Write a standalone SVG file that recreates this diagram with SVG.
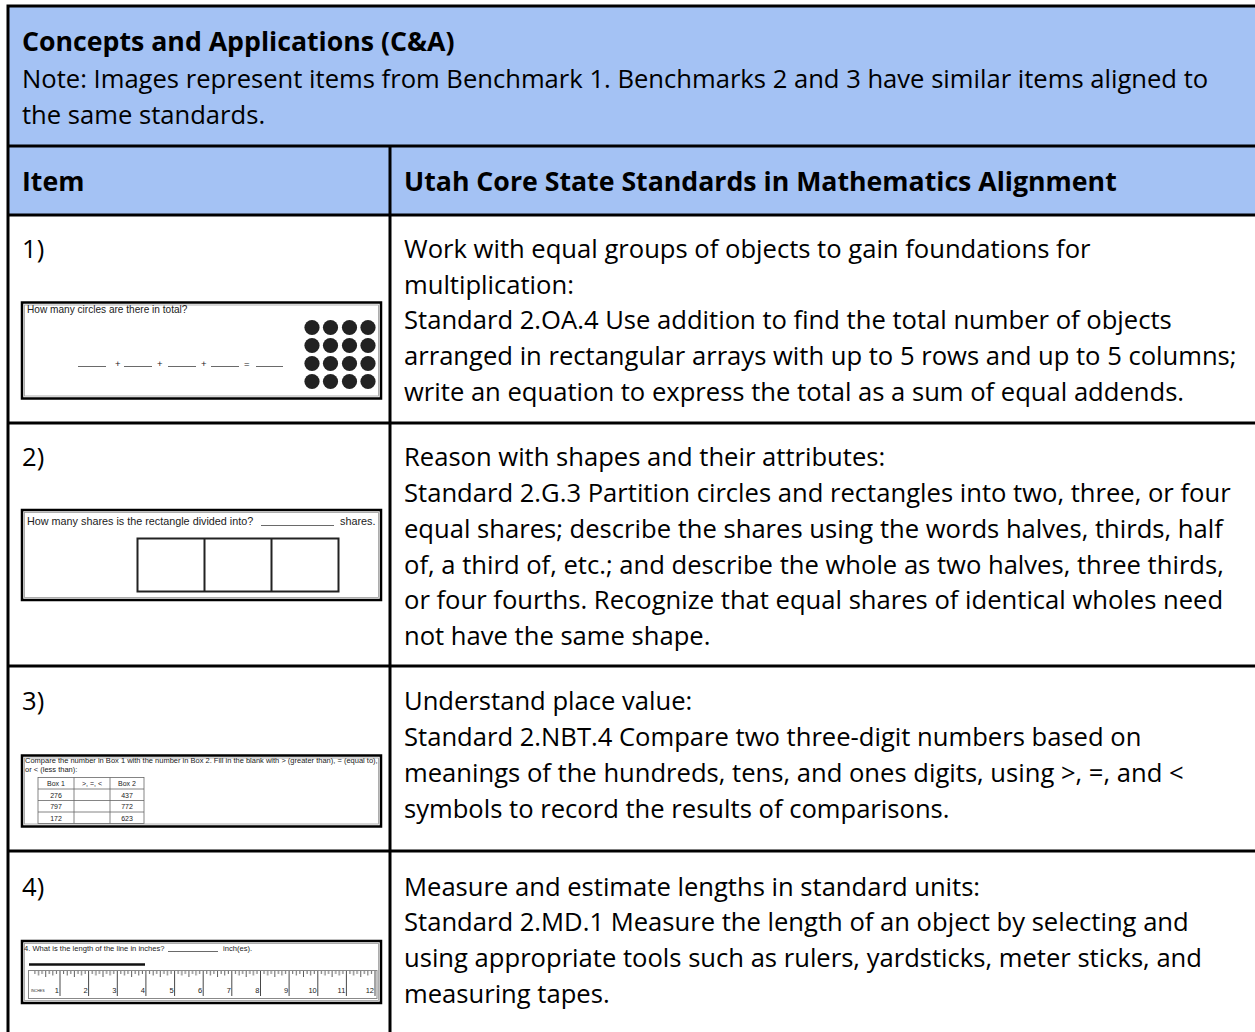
<svg xmlns="http://www.w3.org/2000/svg" width="1255" height="1032" viewBox="0 0 1255 1032">
<defs>
<style>
.t{font-family:"Open Sans","DejaVu Sans",sans-serif;font-size:25.6px;fill:#000}
.b{font-family:"Open Sans","DejaVu Sans",sans-serif;font-size:26.7px;font-weight:bold;fill:#000}
.s{font-family:"Liberation Sans",Arial,sans-serif;fill:#222}
.grid{stroke:#000;stroke-width:3;fill:none}
.frame{fill:#fff;stroke:#000;stroke-width:2.5}
.inner{fill:none;stroke:#999;stroke-width:0.8}
.thin{stroke:#444;stroke-width:0.8;fill:none}
</style>
<pattern id="ticks" patternUnits="userSpaceOnUse" x="31.4" y="971" width="28.64" height="30">
<path d="M3.58 0v3M7.16 0v4.5M10.74 0v3M14.32 0v6M17.9 0v3M21.48 0v4.5M25.06 0v3" stroke="#333" stroke-width="0.8"/>
</pattern>
</defs>
<rect x="8" y="6" width="1247" height="209" fill="#a4c2f4"/>
<rect x="8" y="215" width="1247" height="817" fill="#fff"/>

<g id="grid" class="grid">
<path d="M6.5 6H1255M8 6V1032M8 146H1255M8 215H1255M390 146V1032M8 423H1255M8 666H1255M8 851H1255"/>
</g>

<g id="title">
<text class="b" x="22" y="51">Concepts and Applications (C&amp;A)</text>
<text class="t" x="22" y="88">Note: Images represent items from Benchmark 1. Benchmarks 2 and 3 have similar items aligned to</text>
<text class="t" x="22" y="124">the same standards.</text>
</g>

<g id="header-item"><text class="b" x="22" y="191">Item</text></g>
<g id="header-standard"><text class="b" x="404" y="191">Utah Core State Standards in Mathematics Alignment</text></g>

<g id="row1-item">
<text class="t" x="22" y="258">1)</text>
<rect class="frame" x="22" y="302.5" width="359" height="96"/>
<rect class="inner" x="24.5" y="305" width="354" height="91"/>
<text class="s" x="27" y="313" font-size="10.1">How many circles are there in total?</text>
<g fill="#222">
<circle cx="312" cy="327.5" r="7.6"/><circle cx="330.5" cy="327.5" r="7.6"/><circle cx="349.5" cy="327.5" r="7.6"/><circle cx="368" cy="327.5" r="7.6"/>
<circle cx="312" cy="345.5" r="7.6"/><circle cx="330.5" cy="345.5" r="7.6"/><circle cx="349.5" cy="345.5" r="7.6"/><circle cx="368" cy="345.5" r="7.6"/>
<circle cx="312" cy="363.5" r="7.6"/><circle cx="330.5" cy="363.5" r="7.6"/><circle cx="349.5" cy="363.5" r="7.6"/><circle cx="368" cy="363.5" r="7.6"/>
<circle cx="312" cy="381.5" r="7.6"/><circle cx="330.5" cy="381.5" r="7.6"/><circle cx="349.5" cy="381.5" r="7.6"/><circle cx="368" cy="381.5" r="7.6"/>
</g>
<path class="thin" d="M78 366.5h28M124 366.5h28M168 366.5h28M211 366.5h28M256 366.5h27"/>
<text class="s" x="115" y="367" font-size="9.5">+</text>
<text class="s" x="157" y="367" font-size="9.5">+</text>
<text class="s" x="201" y="367" font-size="9.5">+</text>
<text class="s" x="244" y="367" font-size="9.5">=</text>
</g>
<g id="row1-standard">
<text class="t" x="404" y="258">Work with equal groups of objects to gain foundations for</text>
<text class="t" x="404" y="294">multiplication:</text>
<text class="t" x="404" y="329">Standard 2.OA.4 Use addition to find the total number of objects</text>
<text class="t" x="404" y="365">arranged in rectangular arrays with up to 5 rows and up to 5 columns;</text>
<text class="t" x="404" y="401">write an equation to express the total as a sum of equal addends.</text>
</g>

<g id="row2-item">
<text class="t" x="22" y="466">2)</text>
<rect class="frame" x="22" y="510" width="359" height="90"/>
<rect class="inner" x="24.5" y="512.5" width="354" height="85"/>
<text class="s" x="27" y="525" font-size="10.8">How many shares is the rectangle divided into?</text>
<path class="thin" d="M261 525.5h73"/>
<text class="s" x="340" y="525" font-size="10.8">shares.</text>
<rect x="137.5" y="538.5" width="201" height="53" fill="#fff" stroke="#222" stroke-width="2"/>
<path d="M204.5 538.5v53M271.5 538.5v53" stroke="#222" stroke-width="2"/>
</g>
<g id="row2-standard">
<text class="t" x="404" y="466">Reason with shapes and their attributes:</text>
<text class="t" x="404" y="502">Standard 2.G.3 Partition circles and rectangles into two, three, or four</text>
<text class="t" x="404" y="538">equal shares; describe the shares using the words halves, thirds, half</text>
<text class="t" x="404" y="574">of, a third of, etc.; and describe the whole as two halves, three thirds,</text>
<text class="t" x="404" y="609">or four fourths. Recognize that equal shares of identical wholes need</text>
<text class="t" x="404" y="645">not have the same shape.</text>
</g>

<g id="row3-item">
<text class="t" x="22" y="710">3)</text>
<rect class="frame" x="22" y="755.5" width="359" height="71"/>
<rect class="inner" x="24.5" y="758" width="354" height="66"/>
<text class="s" x="25" y="763" font-size="7.5">Compare the number in Box 1 with the number in Box 2. Fill in the blank with &gt; (greater than), = (equal to),</text>
<text class="s" x="25" y="772" font-size="7.5">or &lt; (less than):</text>
<rect x="38" y="777.5" width="106" height="46" fill="#fff" stroke="#666" stroke-width="0.8"/>
<path d="M74 777.5v46M110 777.5v46M38 789h106M38 800.5h106M38 812h106" stroke="#666" stroke-width="0.8"/>
<g class="s" font-size="7" text-anchor="middle">
<text x="56" y="786">Box 1</text><text x="92" y="786">&gt;, =, &lt;</text><text x="127" y="786">Box 2</text>
<text x="56" y="797.5">276</text><text x="127" y="797.5">437</text>
<text x="56" y="809">797</text><text x="127" y="809">772</text>
<text x="56" y="820.5">172</text><text x="127" y="820.5">623</text>
</g>
</g>
<g id="row3-standard">
<text class="t" x="404" y="710">Understand place value:</text>
<text class="t" x="404" y="746">Standard 2.NBT.4 Compare two three-digit numbers based on</text>
<text class="t" x="404" y="782">meanings of the hundreds, tens, and ones digits, using &gt;, =, and &lt;</text>
<text class="t" x="404" y="818">symbols to record the results of comparisons.</text>
</g>

<g id="row4-item">
<text class="t" x="22" y="896">4)</text>
<rect class="frame" x="22" y="941" width="359" height="62"/>
<rect class="inner" x="24.5" y="943.5" width="354" height="57"/>
<text class="s" x="24" y="951" font-size="7.6">4. What is the length of the line in inches?</text>
<path class="thin" d="M168 951.5h50"/>
<text class="s" x="223" y="951" font-size="7.6">inch(es).</text>
<path d="M29 964.5h116" stroke="#111" stroke-width="2.5"/>
<rect x="28.5" y="970.5" width="348.5" height="28" fill="#fff" stroke="#888" stroke-width="1"/>
<rect x="29" y="971" width="347.5" height="10" fill="url(#ticks)"/>
<path d="M60 971v25M88.6 971v25M117.3 971v25M145.9 971v25M174.6 971v25M203.2 971v25M231.8 971v25M260.5 971v25M289.1 971v25M317.8 971v25M346.4 971v25M375 971v25" stroke="#333" stroke-width="0.9"/>
<g class="s" font-size="7.5" text-anchor="end">
<text x="59" y="993">1</text><text x="87.6" y="993">2</text><text x="116.3" y="993">3</text><text x="144.9" y="993">4</text><text x="173.6" y="993">5</text><text x="202.2" y="993">6</text><text x="230.8" y="993">7</text><text x="259.5" y="993">8</text><text x="288.1" y="993">9</text><text x="316.8" y="993">10</text><text x="345.4" y="993">11</text><text x="374" y="993">12</text>
</g>
<text class="s" x="31" y="992" font-size="3.6">INCHES</text>
</g>
<g id="row4-standard">
<text class="t" x="404" y="896">Measure and estimate lengths in standard units:</text>
<text class="t" x="404" y="931">Standard 2.MD.1 Measure the length of an object by selecting and</text>
<text class="t" x="404" y="967">using appropriate tools such as rulers, yardsticks, meter sticks, and</text>
<text class="t" x="404" y="1003">measuring tapes.</text>
</g>
</svg>
